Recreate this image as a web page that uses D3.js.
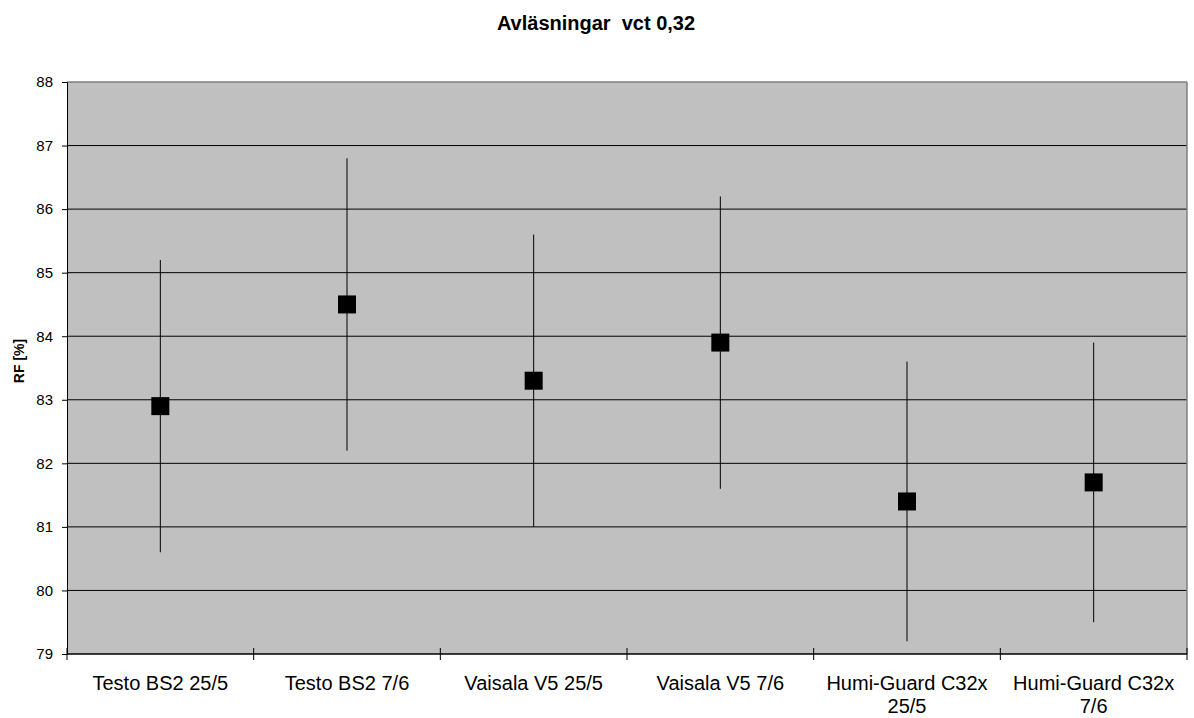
<!DOCTYPE html>
<html><head><meta charset="utf-8">
<script src="https://cdn.jsdelivr.net/npm/d3@7"></script>
<style>body{margin:0;background:#fff;}svg{display:block;font-family:"Liberation Sans",Arial,sans-serif;}</style>
</head><body>
<svg id="c" width="1194" height="718"></svg>
<script>
const categories = [["Testo BS2 25/5"],["Testo BS2 7/6"],["Vaisala V5 25/5"],["Vaisala V5 7/6"],["Humi-Guard C32x","25/5"],["Humi-Guard C32x","7/6"]];
const values = [82.9, 84.5, 83.3, 83.9, 81.4, 81.7];
const lows = [80.6, 82.2, 81.0, 81.6, 79.2, 79.5];
const highs = [85.2, 86.8, 85.6, 86.2, 83.6, 83.9];
const yTicks = [79,80,81,82,83,84,85,86,87,88];

const svg = d3.select("#c");
const L=67, R=1187, T=82, B=654;
const x = d3.scaleBand().domain(d3.range(categories.length)).range([L,R]);
const y = d3.scaleLinear().domain([79,88]).range([B,T]);

svg.append("rect").attr("x",L).attr("y",T).attr("width",R-L).attr("height",B-T).attr("fill","#c0c0c0");
svg.append("g").selectAll("line").data(yTicks.filter(d=>d>79 && d<88)).join("line")
  .attr("x1",L).attr("x2",R).attr("y1",d=>y(d)).attr("y2",d=>y(d)).attr("stroke","#000").attr("stroke-width",1);
svg.append("line").attr("x1",L).attr("x2",R).attr("y1",T).attr("y2",T).attr("stroke","#808080").attr("stroke-width",1.5);
svg.append("line").attr("x1",R).attr("x2",R).attr("y1",T).attr("y2",B).attr("stroke","#808080").attr("stroke-width",1.5);

const ya = svg.append("g").attr("transform",`translate(${L},0)`).call(d3.axisLeft(y).tickValues(yTicks).tickSize(5).tickPadding(9));
ya.select(".domain").attr("stroke","#000");
ya.selectAll("text").attr("font-size",15).attr("fill","#000").attr("font-family","Liberation Sans, Arial, sans-serif");
svg.append("line").attr("x1",L).attr("x2",R).attr("y1",B).attr("y2",B).attr("stroke","#000").attr("stroke-width",1.5);
const bounds = d3.range(categories.length+1).map(i=> i<categories.length ? x(i) : R);
svg.append("g").selectAll("line").data(bounds).join("line")
  .attr("x1",d=>d).attr("x2",d=>d).attr("y1",B-6).attr("y2",B+6).attr("stroke","#000");
const xl = svg.append("g").selectAll("text").data(categories).join("text")
  .attr("x",(d,i)=>x(i)+x.bandwidth()/2).attr("y",690).attr("text-anchor","middle").attr("font-size",20).attr("fill","#000");
xl.each(function(d){ const t=d3.select(this); d.forEach((s,j)=>t.append("tspan").attr("x",t.attr("x")).attr("dy",j?23:0).text(s)); });

svg.append("g").selectAll("line").data(values).join("line")
  .attr("x1",(d,i)=>x(i)+x.bandwidth()/2).attr("x2",(d,i)=>x(i)+x.bandwidth()/2)
  .attr("y1",(d,i)=>y(highs[i])).attr("y2",(d,i)=>y(lows[i])).attr("stroke","#000").attr("stroke-width",1);
svg.append("g").selectAll("rect").data(values).join("rect")
  .attr("x",(d,i)=>x(i)+x.bandwidth()/2-9).attr("y",d=>y(d)-9).attr("width",18).attr("height",18).attr("fill","#000");

svg.append("text").attr("x",596).attr("y",30).attr("text-anchor","middle").attr("font-size",20).attr("font-weight","bold").style("white-space","pre").text("Avläsningar  vct 0,32");
svg.append("text").attr("transform","translate(24,361) rotate(-90)").attr("text-anchor","middle").attr("font-size",14).attr("font-weight","bold").text("RF [%]");
</script>
</body></html>
